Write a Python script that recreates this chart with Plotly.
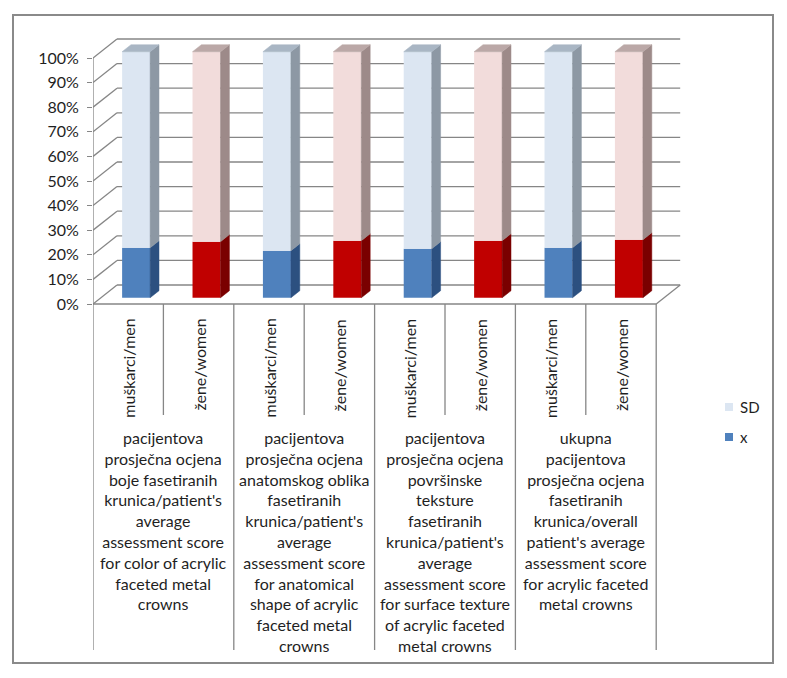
import plotly.graph_objects as go

# ---------------- data ----------------
group_labels = [
    ["pacijentova", "prosječna ocjena", "boje fasetiranih", "krunica/patient's", "average",
     "assessment score", "for color of acrylic", "faceted metal", "crowns"],
    ["pacijentova", "prosječna ocjena", "anatomskog oblika", "fasetiranih", "krunica/patient's",
     "average", "assessment score", "for anatomical", "shape of acrylic", "faceted metal", "crowns"],
    ["pacijentova", "prosječna ocjena", "površinske", "teksture", "fasetiranih", "krunica/patient's",
     "average", "assessment score", "for surface texture", "of acrylic faceted", "metal crowns"],
    ["ukupna", "pacijentova", "prosječna ocjena", "fasetiranih", "krunica/overall",
     "patient's average", "assessment score", "for acrylic faceted", "metal crowns"],
]
sub_labels = ["muškarci/men", "žene/women", "muškarci/men", "žene/women",
              "muškarci/men", "žene/women", "muškarci/men", "žene/women"]
x_share = [20.3, 22.8, 19.1, 23.2, 19.9, 23.2, 20.3, 23.6]
sd_share = [79.7, 77.2, 80.9, 76.8, 80.1, 76.8, 79.7, 76.4]
y_ticks = [0, 10, 20, 30, 40, 50, 60, 70, 80, 90, 100]
y_ticktext = ["0%", "10%", "20%", "30%", "40%", "50%", "60%", "70%", "80%", "90%", "100%"]
series_names = ["x", "SD"]

# ---------------- styles ----------------
FONT = "Lato"
TXT = "#1F1F1F"
GRID = "#868686"
front_x = ["#4F81BD", "#C00000"]
side_x = ["#2C5080", "#7A0000"]
front_sd = ["#DCE6F2", "#F2DCDB"]
side_sd = ["#8D98A4", "#9D8A89"]
top_sd = ["#A9B6C4", "#BBA8A7"]

W, H = 787, 678
L, R, T, B = 93, 700, 30, 665
PX_SLOT, PX_PCT = 70.4, 2.46
X0, Y0PX = -0.5, 304
DX, DY = 24 / PX_SLOT, 19 / PX_PCT          # full depth of the 3D box
ZF, ZB = 0.33, 0.70                           # bar depth (front / back fraction)
BW = 28 / PX_SLOT


def px2x(px):
    return X0 + (px - L) / PX_SLOT


def py2y(py):
    return (Y0PX - py) / PX_PCT


def pxp(px):
    return (px - L) / (R - L)


def pyp(py):
    return (B - py) / (B - T)


n = len(x_share)
cats = list(range(n))
xf = [c + ZF * DX for c in cats]
base0 = ZF * DY

fig = go.Figure()

# front faces through the bar trace
fig.add_trace(go.Bar(
    x=xf, y=x_share, base=[base0] * n, width=BW, name=series_names[0],
    marker=dict(color=[front_x[i % 2] for i in cats], line=dict(width=0)),
    showlegend=False, hoverinfo="skip"))
fig.add_trace(go.Bar(
    x=xf, y=sd_share, base=[base0 + v for v in x_share], width=BW, name=series_names[1],
    marker=dict(color=[front_sd[i % 2] for i in cats], line=dict(width=0)),
    showlegend=False, hoverinfo="skip"))


def poly(xs, ys, color):
    fig.add_trace(go.Scatter(
        x=xs + [xs[0]], y=ys + [ys[0]], mode="lines", fill="toself",
        fillcolor=color, line=dict(color=color, width=0.5),
        showlegend=False, hoverinfo="skip"))


dzx, dzy = (ZB - ZF) * DX, (ZB - ZF) * DY
for i in cats:
    xl, xr = xf[i] - BW / 2, xf[i] + BW / 2
    segs = [(0, x_share[i], side_x[i % 2]),
            (x_share[i], x_share[i] + sd_share[i], side_sd[i % 2])]
    for b, t, col in segs:
        poly([xr, xr + dzx, xr + dzx, xr],
             [b + base0, b + base0 + dzy, t + base0 + dzy, t + base0], col)
    t = x_share[i] + sd_share[i]
    poly([xl, xr, xr + dzx, xl + dzx],
         [t + base0, t + base0, t + base0 + dzy, t + base0 + dzy], top_sd[i % 2])

shapes = []
line_g = dict(color=GRID, width=1.3)
x_end = X0 + n
for v in y_ticks:
    shapes.append(dict(type="line", xref="x", yref="y", x0=X0, y0=v, x1=X0 + DX, y1=v + DY,
                       line=line_g, layer="below"))
    shapes.append(dict(type="line", xref="x", yref="y", x0=X0 + DX, y0=v + DY, x1=x_end + DX,
                       y1=v + DY, line=line_g, layer="below"))
# floor front edge & right edge
shapes.append(dict(type="line", xref="x", yref="y", x0=X0, y0=0, x1=x_end, y1=0, line=line_g))
shapes.append(dict(type="line", xref="x", yref="y", x0=x_end, y0=0, x1=x_end + DX, y1=DY,
                   line=line_g, layer="below"))
# vertical value axis
shapes.append(dict(type="line", xref="x", yref="y", x0=X0, y0=0, x1=X0, y1=100, line=line_g))
# category table lines
for k in range(n + 1):
    yb = py2y(650) if k % 2 == 0 else py2y(415)
    shapes.append(dict(type="line", xref="x", yref="y", x0=X0 + k, y0=0, x1=X0 + k, y1=yb,
                       line=line_g))
# outer frame
shapes.append(dict(type="rect", xref="paper", yref="paper", x0=pxp(13), x1=pxp(773),
                   y0=pyp(663), y1=pyp(15), line=dict(color="#8A8A8A", width=2),
                   fillcolor="rgba(0,0,0,0)"))
# legend swatches
shapes.append(dict(type="rect", xref="paper", yref="paper", x0=pxp(725), x1=pxp(733),
                   y0=pyp(411), y1=pyp(403), line=dict(width=0), fillcolor=front_sd[0]))
shapes.append(dict(type="rect", xref="paper", yref="paper", x0=pxp(725), x1=pxp(733),
                   y0=pyp(441), y1=pyp(433), line=dict(width=0), fillcolor=front_x[0]))

annotations = []
for i in cats:
    annotations.append(dict(x=i, y=py2y(317), xref="x", yref="y", text=sub_labels[i],
                            textangle=-90, showarrow=False, xanchor="center", yanchor="top",
                            font=dict(family=FONT, size=16, color=TXT)))
for g, lines in enumerate(group_labels):
    annotations.append(dict(x=2 * g + 0.5, y=py2y(426), xref="x", yref="y",
                            text="<br>".join(lines), showarrow=False, xanchor="center",
                            yanchor="top", align="center",
                            font=dict(family=FONT, size=16, color=TXT)))
annotations.append(dict(x=pxp(738), y=pyp(407), xref="paper", yref="paper", text=series_names[1],
                        showarrow=False, xanchor="left", yanchor="middle",
                        font=dict(family=FONT, size=15, color=TXT)))
annotations.append(dict(x=pxp(738), y=pyp(437), xref="paper", yref="paper", text=series_names[0],
                        showarrow=False, xanchor="left", yanchor="middle",
                        font=dict(family=FONT, size=15, color=TXT)))

fig.update_layout(
    width=W, height=H, margin=dict(l=L, r=W - R, t=T, b=H - B),
    paper_bgcolor="white", plot_bgcolor="white", barmode="overlay",
    showlegend=False, shapes=shapes, annotations=annotations,
    xaxis=dict(range=[X0, px2x(R)], visible=False, fixedrange=True),
    yaxis=dict(range=[py2y(B), py2y(T)], tickvals=y_ticks, ticktext=y_ticktext,
               ticks="outside", ticklen=5, tickcolor=GRID, tickwidth=1.3,
               showgrid=False, zeroline=False, showline=False, ticklabelstandoff=5,
               tickfont=dict(family=FONT, size=16, color=TXT), fixedrange=True),
)

fig.write_html("out.html", config={"displayModeBar": False},
               post_script="document.body.style.margin='0';document.body.style.overflow='hidden';")
